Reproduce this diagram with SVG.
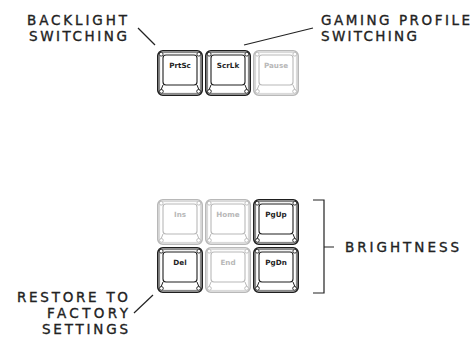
<svg xmlns="http://www.w3.org/2000/svg" xmlns:xlink="http://www.w3.org/1999/xlink" width="471" height="340" viewBox="0 0 471 340">
<style>
.lbl{font-family:"DejaVu Sans","Liberation Sans",sans-serif;font-size:13.5px;fill:#222;stroke:#222;stroke-width:0.35;}
.kt{font-family:"DejaVu Sans","Liberation Sans",sans-serif;font-size:7.2px;font-weight:bold;text-anchor:middle;fill:currentColor;}
.dark{color:#1e1e1e;}
.light{color:#b8b8b8;}
.ln{stroke:#222;stroke-width:1.2;fill:none;}
</style>
<defs>
<g id="keyshape" fill="none" stroke="currentColor">
<rect x="0.8" y="0.8" width="44.4" height="44.4" rx="5" stroke-width="1.6"/>
<rect x="2.6" y="2.6" width="40.8" height="40.8" rx="3.5" stroke-width="0.6"/>
<rect x="6" y="5" width="34" height="30" rx="3" stroke-width="1.1"/>
<path d="M2.6 2.6L6 5M43.4 2.6L40 5M2.6 43.4L6 35M43.4 43.4L40 35" stroke-width="1"/>
<circle cx="4.2" cy="4.2" r="1.9" fill="#fff" stroke-width="0.9"/>
<circle cx="41.8" cy="4.2" r="1.9" fill="#fff" stroke-width="0.9"/>
<circle cx="4.4" cy="41.4" r="1.9" fill="#fff" stroke-width="0.9"/>
<circle cx="41.6" cy="41.4" r="1.9" fill="#fff" stroke-width="0.9"/>
</g>
</defs>
<rect width="471" height="340" fill="#fff"/>

<g id="key-prtsc" class="dark" transform="translate(157,50)"><use xlink:href="#keyshape"/><text class="kt" x="23" y="17.5">PrtSc</text></g>
<g id="key-scrlk" class="dark" transform="translate(205,50)"><use xlink:href="#keyshape"/><text class="kt" x="23" y="17.5">ScrLk</text></g>
<g id="key-pause" class="light" transform="translate(253,50)"><use xlink:href="#keyshape"/><text class="kt" x="23" y="17.5">Pause</text></g>

<g id="key-ins" class="light" transform="translate(157,199)"><use xlink:href="#keyshape"/><text class="kt" x="23" y="17.5">Ins</text></g>
<g id="key-home" class="light" transform="translate(205,199)"><use xlink:href="#keyshape"/><text class="kt" x="23" y="17.5">Home</text></g>
<g id="key-pgup" class="dark" transform="translate(253,199)"><use xlink:href="#keyshape"/><text class="kt" x="23" y="17.5">PgUp</text></g>
<g id="key-del" class="dark" transform="translate(157,247)"><use xlink:href="#keyshape"/><text class="kt" x="23" y="17.5">Del</text></g>
<g id="key-end" class="light" transform="translate(205,247)"><use xlink:href="#keyshape"/><text class="kt" x="23" y="17.5">End</text></g>
<g id="key-pgdn" class="dark" transform="translate(253,247)"><use xlink:href="#keyshape"/><text class="kt" x="23" y="17.5">PgDn</text></g>

<g id="label-backlight">
<text class="lbl" x="127" y="25" text-anchor="end" textLength="100" lengthAdjust="spacing">BACKLIGHT</text>
<text class="lbl" x="127" y="41" text-anchor="end" textLength="98" lengthAdjust="spacing">SWITCHING</text>
</g>
<g id="label-gaming">
<text class="lbl" x="321" y="25" textLength="149" lengthAdjust="spacing">GAMING PROFILE</text>
<text class="lbl" x="321" y="41" textLength="96" lengthAdjust="spacing">SWITCHING</text>
</g>
<g id="label-restore">
<text class="lbl" x="128" y="302" text-anchor="end" textLength="111" lengthAdjust="spacing">RESTORE TO</text>
<text class="lbl" x="128" y="318" text-anchor="end" textLength="81" lengthAdjust="spacing">FACTORY</text>
<text class="lbl" x="128" y="334" text-anchor="end" textLength="86" lengthAdjust="spacing">SETTINGS</text>
</g>
<g id="label-brightness">
<text class="lbl" x="345" y="252" textLength="114" lengthAdjust="spacing">BRIGHTNESS</text>
</g>

<g id="connectors">
<path class="ln" d="M138 28L155 45"/>
<path class="ln" d="M244 45L313 28"/>
<path class="ln" d="M134 313L153 295"/>
<path class="ln" d="M313 200H324V293H313M324 247H334" stroke-width="1.4"/>
</g>
</svg>
